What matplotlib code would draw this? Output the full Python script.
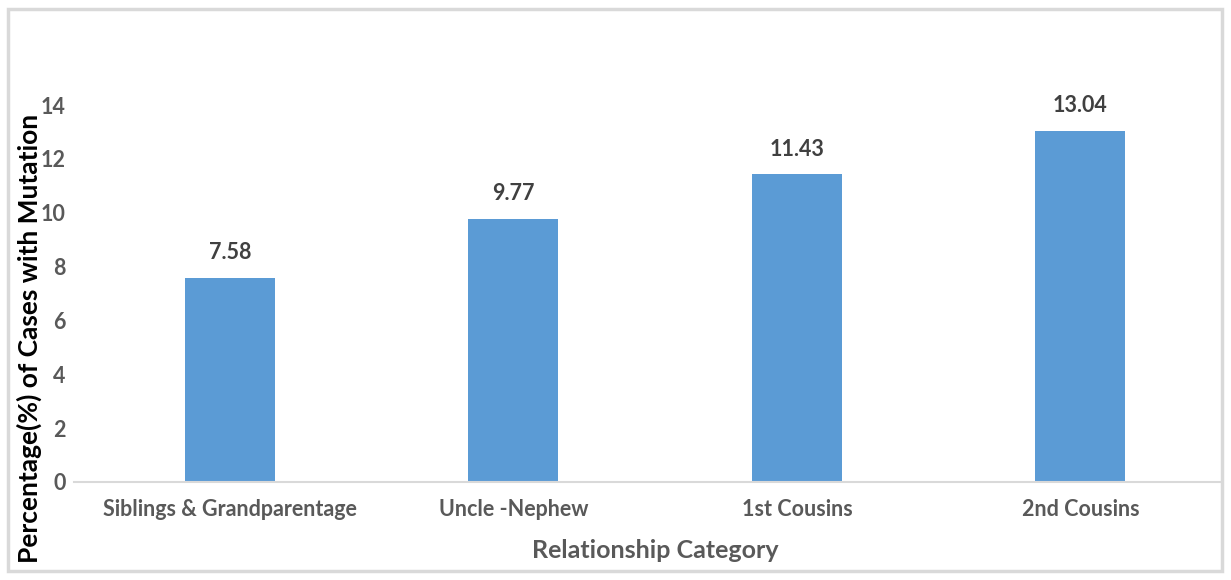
import matplotlib.pyplot as plt
from matplotlib.patches import Rectangle

# 数据
categories = ['Siblings & Grandparentage', 'Uncle -Nephew', '1st Cousins', '2nd Cousins']
values = [7.58, 9.77, 11.43, 13.04]
value_labels = ['7.58', '9.77', '11.43', '13.04']
y_ticks = [0, 2, 4, 6, 8, 10, 12, 14]

plt.rcParams['font.family'] = ['Lato', 'DejaVu Sans']

fig = plt.figure(figsize=(12.31, 5.8), dpi=100)
ax = fig.add_axes([74 / 1231, 1 - 482 / 580, (1221 - 74) / 1231, (482 - 105) / 580])

x = list(range(len(categories)))
ax.bar(x, values, width=0.317, color='#5b9bd5', zorder=2)

for xi, v, lab in zip(x, values, value_labels):
    ax.annotate(lab, (xi, v), xytext=(0, 18), textcoords='offset points',
                ha='center', va='center', fontsize=15.5, fontweight='bold', color='#404040')

ax.set_xlim(-0.55, 3.496)
ax.set_ylim(0, 14)
ax.set_yticks(y_ticks)
ax.set_xticks(x)
ax.set_xticklabels(categories)
ax.tick_params(axis='both', length=0, labelsize=15.5, labelcolor='#595959')
ax.tick_params(axis='y', pad=6)
ax.tick_params(axis='x', pad=12)
for lab in ax.get_xticklabels() + ax.get_yticklabels():
    lab.set_fontweight('bold')

for s in ['top', 'right', 'left']:
    ax.spines[s].set_visible(False)
ax.spines['bottom'].set_color('#d9d9d9')
ax.spines['bottom'].set_linewidth(1.5)

fig.text(29 / 1231, 1 - 338 / 580, 'Percentage(%) of Cases with Mutation', rotation=90,
         ha='center', va='center', fontsize=19, fontweight='bold', color='black')
fig.text(655 / 1231, 1 - 551 / 580, 'Relationship Category', ha='center', va='center',
         fontsize=18, fontweight='bold', color='#595959')

# 外框
fig.patches.append(Rectangle((7.5 / 1231, 1 - 571 / 580), (1222 - 7.5) / 1231, (571 - 9) / 580,
                             transform=fig.transFigure, fill=False, edgecolor='#d9d9d9', linewidth=2.5))

fig.savefig('out.png', dpi=100)
